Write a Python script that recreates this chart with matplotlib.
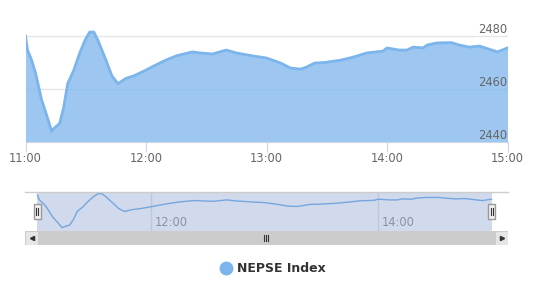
import matplotlib
matplotlib.use("Agg")
import matplotlib.pyplot as plt
import matplotlib.transforms as mtransforms
from matplotlib.patches import Rectangle

# minutes after 11:00 and NEPSE index values
minutes = [0, 1, 3, 5, 8, 11, 13, 14, 17, 19, 21, 24, 27, 30, 32, 34, 36, 40, 43, 46,
           50, 54, 58, 64, 69, 75, 83, 87, 93, 100, 105, 113, 120, 127, 132, 137, 140,
           144, 149, 157, 163, 170, 178, 180, 186, 190, 193, 198, 200, 205, 212, 216,
           221, 226, 231, 235, 240]
values = [2480.0, 2474.7, 2471.0, 2466.0, 2456.0, 2449.0, 2444.0, 2445.0, 2447.0, 2453.0,
          2462.0, 2467.0, 2473.6, 2479.0, 2481.5, 2481.5, 2478.5, 2471.0, 2465.0, 2462.0,
          2464.0, 2465.0, 2466.4, 2468.7, 2470.6, 2472.5, 2474.0, 2473.6, 2473.2, 2474.7,
          2473.6, 2472.5, 2471.7, 2469.8, 2467.9, 2467.5, 2468.3, 2469.8, 2470.0, 2470.9,
          2472.0, 2473.6, 2474.3, 2475.5, 2474.7, 2474.7, 2475.8, 2475.5, 2476.6, 2477.4,
          2477.5, 2476.6, 2475.8, 2476.2, 2475.0, 2474.0, 2475.5]
x_ticks = [0, 60, 120, 180, 240]
x_labels = ["11:00", "12:00", "13:00", "14:00", "15:00"]
y_ticks = [2440, 2460, 2480]
nav_ticks = [60, 180]
nav_labels = ["12:00", "14:00"]
series_name = "NEPSE Index"

W, H = 533, 300
LINE = "#7cb5ec"


def px_axes(fig, x0, y0, x1, y1):
    return fig.add_axes([x0 / W, 1 - y1 / H, (x1 - x0) / W, (y1 - y0) / H])


fig = plt.figure(figsize=(W / 100, H / 100), dpi=100)

# main chart
ax = px_axes(fig, 25.5, 28, 507.5, 142)
ax.set_xlim(0, 240)
ax.set_ylim(2440, 2440 + (142 - 28) * 20 / 53)
for v in y_ticks[1:]:
    ax.axhline(v, color="#e6e6e6", lw=1, zorder=0)
ax.fill_between(minutes, values, 2440, color=LINE, alpha=0.75, lw=0, zorder=1)
ax.plot(minutes, values, color=LINE, lw=2, zorder=2)
for s in ["top", "left", "right"]:
    ax.spines[s].set_visible(False)
ax.spines["bottom"].set_color("#ccd6eb")
ax.set_yticks([])
ax.set_xticks(x_ticks)
ax.set_xticklabels(x_labels)
ax.tick_params(axis="x", length=7, color="#ccd6eb", labelcolor="#666666", labelsize=8.3, pad=0)
trans = mtransforms.blended_transform_factory(ax.transAxes, ax.transData)
for v in y_ticks:
    ax.text(1.0, v, str(v), transform=trans, ha="right", va="bottom",
            color="#666666", fontsize=8.3)

# navigator
nav = px_axes(fig, 25, 191.5, 508, 231)
nav.set_xlim(-6.6, 248.7)
nav.set_ylim(2440.4, 2484)
for s in nav.spines.values():
    s.set_visible(False)
nav.set_xticks([])
nav.set_yticks([])
for t, lab in zip(nav_ticks, nav_labels):
    nav.axvline(t, color="#e6e6e6", lw=1, zorder=0)
    nav.text(t + 2, 2442.5, lab, color="#999999", fontsize=8.3, va="bottom", zorder=1)
nav.plot(minutes, values, color=LINE, lw=1, zorder=2)
nav.add_patch(Rectangle((0, 2440.4), 240, 44, facecolor=(102 / 255, 133 / 255, 194 / 255),
                        alpha=0.3, lw=0, zorder=3))
nav.axhline(2484, color="#cccccc", lw=1, zorder=4, clip_on=False)
for t in (0, 240):
    hx = nav.transData.transform((t, 0))[0]
    hp = fig.transFigure.inverted().transform((hx, 0))[0]
    fig.patches.append(Rectangle((hp - 3.5 / W, 1 - 219 / H), 7 / W, 15 / H,
                                 facecolor="#f2f2f2", edgecolor="#999999", lw=1,
                                 transform=fig.transFigure, zorder=5))
    for dx in (-1, 1):
        fig.lines.append(plt.Line2D([hp + dx / W] * 2, [1 - 215 / H, 1 - 208 / H],
                                    color="#333333", lw=0.8, transform=fig.transFigure,
                                    zorder=6))

# scrollbar
sb = px_axes(fig, 25, 231, 508, 245)
sb.set_xlim(25, 508)
sb.set_ylim(0, 1)
sb.axis("off")
sb.add_patch(Rectangle((25, 0), 483, 1, facecolor="#f2f2f2", lw=0))
sb.add_patch(Rectangle((38, 0), 457, 1, facecolor="#cccccc", lw=0))
sb.add_patch(Rectangle((25, 0), 13, 1, facecolor="#e6e6e6", edgecolor="#cccccc", lw=0.8))
sb.add_patch(Rectangle((495, 0), 13, 1, facecolor="#e6e6e6", edgecolor="#cccccc", lw=0.8))
sb.plot([31.5], [0.5], marker="<", ms=3, color="#333333")
sb.plot([501.5], [0.5], marker=">", ms=3, color="#333333")
for dx in (-2, 0, 2):
    sb.plot([266 + dx] * 2, [0.3, 0.7], color="#333333", lw=0.8)

# legend
fig.lines.append(plt.Line2D([226 / W], [1 - 268 / H], marker="o", ms=9, color=LINE,
                            transform=fig.transFigure))
fig.text(237 / W, 1 - 268 / H, series_name, color="#333333", fontsize=9,
         fontweight="bold", va="center", ha="left")

fig.savefig("out.png", dpi=100)
